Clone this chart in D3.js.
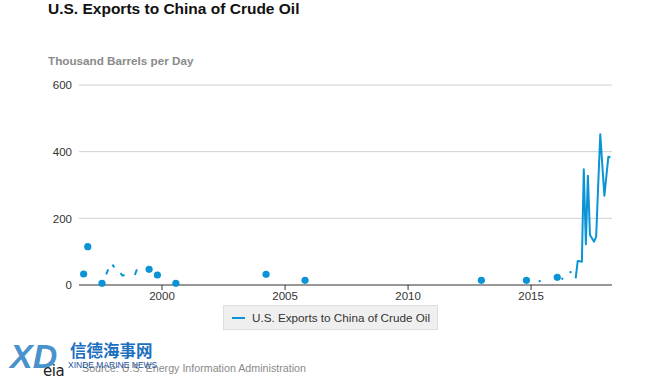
<!DOCTYPE html>
<html>
<head>
<meta charset="utf-8">
<script src="https://cdn.jsdelivr.net/npm/d3@7"></script>
<style>
  html, body { margin: 0; padding: 0; background: #fff; }
  svg { display: block; }
</style>
</head>
<body>
<svg id="chart" width="670" height="380"></svg>
<script>
// ---- data (monthly observations; months not listed had no exports) ----
const months = [
  "1996-11","1997-01","1997-08","1997-10","1997-11","1998-01","1998-02",
  "1998-05","1998-06","1998-07","1998-12","1999-01","1999-07","1999-11",
  "2000-08","2004-04","2005-11","2013-01","2014-11","2015-05","2015-06",
  "2016-02","2016-04","2016-05","2016-08","2016-09","2016-11","2016-12",
  "2017-01","2017-02","2017-03","2017-04","2017-05","2017-06","2017-07",
  "2017-08","2017-09","2017-10","2017-11","2017-12","2018-01","2018-02",
  "2018-03","2018-04"
];
const values = [
  33,115,5,32,47,61,53,
  36,28,30,30,47,47,30,
  5,32,14,14,14,12,11,
  23,20,18,37,40,20,72,
  71,70,347,122,328,150,140,
  130,145,300,452,360,268,330,
  385,383
];
const yTicks = [0, 200, 400, 600];
const xTickYears = [2000, 2005, 2010, 2015];
const seriesName = "U.S. Exports to China of Crude Oil";

// ---- setup ----
const svg = d3.select("#chart");
const color = "#0a94d6";
const font = "Liberation Sans, Arial, sans-serif";
const parse = d3.timeParse("%Y-%m");
const data = months.map((m, i) => ({ date: parse(m), v: values[i] }));

const x = d3.scaleTime()
  .domain([new Date(1996, 7, 24), new Date(2018, 3, 24)])
  .range([79, 612]);
const y = d3.scaleLinear().domain([0, 600]).range([285, 85]);

// title & subtitle
svg.append("text").attr("x", 48).attr("y", 14)
  .attr("font-family", font)
  .attr("font-weight", "bold").attr("font-size", 15.5).attr("fill", "#111")
  .text("U.S. Exports to China of Crude Oil");
svg.append("text").attr("x", 48).attr("y", 65)
  .attr("font-family", font)
  .attr("font-weight", "bold").attr("font-size", 11.7).attr("fill", "#8a8a8a")
  .text("Thousand Barrels per Day");

// gridlines + y axis labels
const yAxis = d3.axisLeft(y).tickValues(yTicks).tickSize(0).tickPadding(7)
  .tickFormat(d3.format("d"));
const gy = svg.append("g").attr("transform", "translate(79,0)").call(yAxis);
gy.select(".domain").remove();
gy.selectAll("text").attr("font-family", font)
  .attr("font-size", 11.5).attr("fill", "#333");
svg.append("g").selectAll("line").data(yTicks.filter(d => d > 0)).join("line")
  .attr("x1", 79).attr("x2", 612)
  .attr("y1", d => y(d)).attr("y2", d => y(d))
  .attr("stroke", "#d0d0d0").attr("stroke-width", 1);

// x axis
const xAxis = d3.axisBottom(x)
  .tickValues(xTickYears.map(yr => new Date(yr, 0, 1)))
  .tickFormat(d3.timeFormat("%Y")).tickSize(5).tickPadding(2);
const gx = svg.append("g").attr("transform", `translate(0,${y(0)})`).call(xAxis);
gx.select(".domain").attr("stroke", "#333").attr("stroke-width", 1.2)
  .attr("d", `M79,0H612`);
gx.selectAll(".tick line").attr("stroke", "#333");
gx.selectAll("text").attr("font-family", font)
  .attr("font-size", 11.5).attr("fill", "#333");

// series: connect only consecutive months
const monthIndex = d => d.date.getFullYear() * 12 + d.date.getMonth();
const segments = [];
let cur = [];
data.forEach((d, i) => {
  if (i > 0 && monthIndex(d) - monthIndex(data[i - 1]) !== 1) {
    segments.push(cur); cur = [];
  }
  cur.push(d);
});
segments.push(cur);

const line = d3.line().x(d => x(d.date)).y(d => y(d.v));
svg.append("g").selectAll("path").data(segments.filter(s => s.length > 1)).join("path")
  .attr("d", line).attr("fill", "none").attr("stroke", color)
  .attr("stroke-width", 2).attr("stroke-linejoin", "round");
svg.append("g").selectAll("circle").data(segments.filter(s => s.length === 1).map(s => s[0]))
  .join("circle")
  .attr("cx", d => x(d.date)).attr("cy", d => y(d.v)).attr("r", 3.6)
  .attr("fill", color);

// legend
const lg = svg.append("g");
lg.append("rect").attr("x", 223.5).attr("y", 305.5).attr("width", 214).attr("height", 24)
  .attr("fill", "#efefef").attr("stroke", "#dedede");
lg.append("line").attr("x1", 232).attr("x2", 245).attr("y1", 318).attr("y2", 318)
  .attr("stroke", color).attr("stroke-width", 2);
lg.append("text").attr("x", 252).attr("y", 322)
  .attr("font-family", font)
  .attr("font-size", 11.7).attr("fill", "#333").text(seriesName);

// source
svg.append("text").attr("x", 43).attr("y", 376)
  .attr("font-family", "DejaVu Sans, sans-serif").attr("font-size", 15).attr("fill", "#222")
  .attr("letter-spacing", -0.5)
  .text("eia");
svg.append("text").attr("x", 82).attr("y", 372)
  .attr("font-family", font)
  .attr("font-size", 10.7).attr("fill", "#8a8a8a")
  .text("Source: U.S. Energy Information Administration");

// watermark
const wm = svg.append("g");
wm.append("text").attr("x", 10).attr("y", 368)
  .attr("font-family", font).attr("font-weight", "bold")
  .attr("font-style", "italic").attr("font-size", 34).attr("fill", "#2a7fc4").attr("opacity", 0.85)
  .text("XD");
wm.append("text").attr("x", 70).attr("y", 357)
  .attr("font-family", "Noto Sans CJK SC, sans-serif").attr("font-weight", "bold")
  .attr("font-size", 16.5).attr("fill", "#1a6fc0")
  .text("信德海事网");
wm.append("text").attr("x", 68).attr("y", 368)
  .attr("font-family", font)
  .attr("font-size", 8.5).attr("fill", "#1a4f9a")
  .text("XINDE MARINE NEWS");
</script>
</body>
</html>
